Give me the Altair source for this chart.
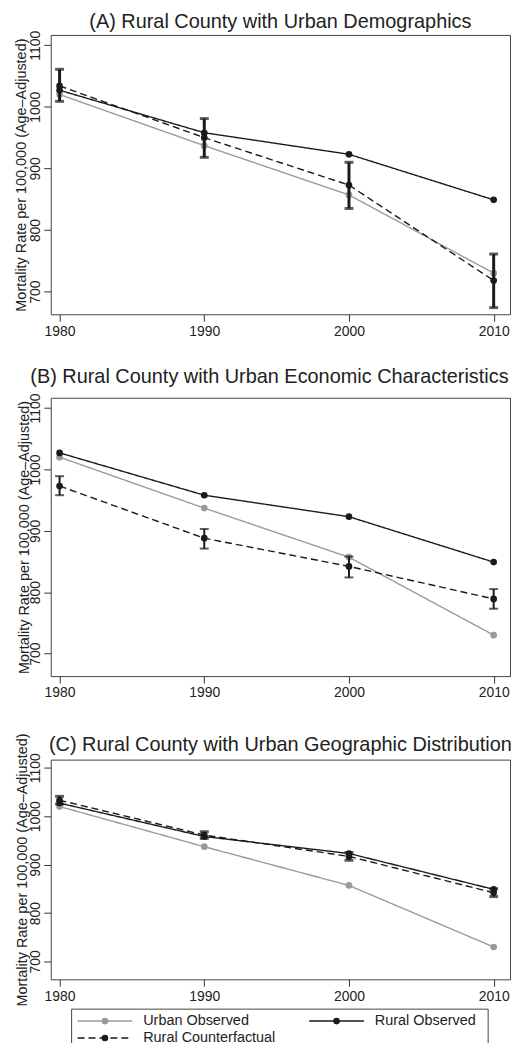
import altair as alt
import pandas as pd

years = [1980, 1990, 2000, 2010]
urban_observed = [1020, 937, 857, 730]
rural_observed = [1027, 958, 923, 849]

cf_a_est = [1034, 950, 873, 718]
cf_a_lo = [1009, 918, 835, 674]
cf_a_hi = [1061, 981, 910, 761]

cf_b_est = [973, 888, 842, 789]
cf_b_lo = [958, 871, 824, 773]
cf_b_hi = [989, 903, 858, 805]

cf_c_est = [1033, 961, 917, 842]
cf_c_lo = [1025, 954, 909, 834]
cf_c_hi = [1041, 968, 925, 850]

panel_titles = [
    "(A) Rural County with Urban Demographics",
    "(B) Rural County with Urban Economic Characteristics",
    "(C) Rural County with Urban Geographic Distribution",
]
series_names = ["Urban Observed", "Rural Observed", "Rural Counterfactual"]
y_ticks = [700, 800, 900, 1000, 1100]
y_title = "Mortality Rate per 100,000 (Age\u2013Adjusted)"

FONT = "Liberation Sans"
INK = "#1a1a1a"
GRAY = "#9a9a9a"
W = 462
series_colors = [GRAY, INK, INK]
series_dash = [[1, 0], [1, 0], [7, 4]]


def panel(title, est, lo, hi, height, t_offset, t_dx, ytitle_x, err_w):
    rows = []
    for name, vals in zip(series_names, [urban_observed, rural_observed, est]):
        for yr, v in zip(years, vals):
            rows.append({"year": yr, "value": v, "series": name})
    df = pd.DataFrame(rows)
    err = pd.DataFrame({"year": years, "lo": lo, "hi": hi})

    x = alt.X("year:Q",
              scale=alt.Scale(domain=[1979.39, 2011.13], nice=False, zero=False),
              axis=alt.Axis(values=years, format="d", title=None,
                            labelPadding=3, labelFontSize=14))
    y = alt.Y("value:Q",
              scale=alt.Scale(domain=[663.2, 1116.8], nice=False, zero=False),
              axis=alt.Axis(values=y_ticks, format="d", title=y_title,
                            labelAngle=270, labelAlign="center",
                            labelBaseline="alphabetic",
                            labelPadding=4, labelFontSize=14,
                            titleAngle=270, titleAlign="center",
                            titleBaseline="alphabetic", titleX=ytitle_x,
                            titleY=height / 2, titleFontSize=14.5))
    color_scale = alt.Scale(domain=series_names, range=series_colors)

    lines = alt.Chart(df).mark_line(strokeWidth=1.4).encode(
        x=x, y=y,
        color=alt.Color("series:N", scale=color_scale, legend=None),
        strokeDash=alt.StrokeDash("series:N",
                                  scale=alt.Scale(domain=series_names,
                                                  range=series_dash),
                                  legend=None),
    )
    points = alt.Chart(df).mark_circle(size=45, opacity=1).encode(
        x=x, y=y,
        color=alt.Color("series:N", scale=color_scale, legend=None),
    )
    stems = alt.Chart(err).mark_rule(color=INK, strokeWidth=err_w).encode(
        x=x, y=alt.Y("lo:Q"), y2="hi:Q")
    caps_lo = alt.Chart(err).mark_tick(color=INK, orient="horizontal", size=9,
                                       thickness=err_w).encode(x=x, y=alt.Y("lo:Q"))
    caps_hi = alt.Chart(err).mark_tick(color=INK, orient="horizontal", size=9,
                                       thickness=err_w).encode(x=x, y=alt.Y("hi:Q"))
    head = alt.Chart(pd.DataFrame({"t": [title]})).mark_text(
        font=FONT, fontSize=20, color="#222222", align="center",
        baseline="alphabetic").encode(
        x=alt.value(W / 2 + t_dx), y=alt.value(-t_offset), text="t:N")

    layers = [lines, points, stems, caps_lo, caps_hi, head]
    return layers, dict(width=W, height=height)


def legend_layers(top, bottom):
    one = pd.DataFrame({"k": [0]})
    out = []
    # top, left and right edges of the legend box; its bottom edge is at the page edge
    out.append(alt.Chart(one).mark_rule(color="#444444", strokeWidth=1).encode(
        x=alt.value(21), x2=alt.value(440), y=alt.value(top)))
    out.append(alt.Chart(one).mark_rule(color="#444444", strokeWidth=1).encode(
        x=alt.value(21), y=alt.value(top), y2=alt.value(bottom)))
    out.append(alt.Chart(one).mark_rule(color="#444444", strokeWidth=1).encode(
        x=alt.value(440), y=alt.value(top), y2=alt.value(bottom)))
    slots = [(27, top + 12), (260, top + 12), (27, top + 29)]
    for name, col, dash, (sx, sy) in zip(series_names, series_colors, series_dash, slots):
        d = pd.DataFrame({"label": [name]})
        out.append(alt.Chart(d).mark_rule(color=col, strokeWidth=1.4, strokeDash=dash).encode(
            x=alt.value(sx), x2=alt.value(sx + 55), y=alt.value(sy)))
        out.append(alt.Chart(d).mark_circle(color=col, size=45, opacity=1).encode(
            x=alt.value(sx + 27.5), y=alt.value(sy)))
        out.append(alt.Chart(d).mark_text(align="left", baseline="middle", font=FONT,
                                          fontSize=14.5, color="#222222").encode(
            x=alt.value(sx + 66), y=alt.value(sy), text="label:N"))
    return out


la, pa_props = panel(panel_titles[0], cf_a_est, cf_a_lo, cf_a_hi, 281, 7, 0, -25, 3.0)
lb, pb_props = panel(panel_titles[1], cf_b_est, cf_b_lo, cf_b_hi, 280, 15, -11, -22, 2.0)
lc, pc_props = panel(panel_titles[2], cf_c_est, cf_c_lo, cf_c_hi, 221, 9, 0, -24, 3.0)

pa = alt.layer(*la).properties(**pa_props)
pb = alt.layer(*lb).properties(**pb_props)
pc = alt.layer(*lc, *legend_layers(251, 285)).properties(**pc_props)

chart = alt.vconcat(pa, pb, pc, spacing=84, bounds="flush").properties(
    padding={"left": 5, "top": 0, "right": 0, "bottom": 0}
).configure_view(stroke="#444444", strokeWidth=1).configure_axis(
    domain=False, grid=False, tickColor="#333333", tickSize=7,
    labelColor="#222222", titleColor="#222222", labelFont=FONT,
    titleFont=FONT, titleFontWeight="normal",
)

chart.save("out.html", embed_options={"renderer": "svg", "actions": False})
